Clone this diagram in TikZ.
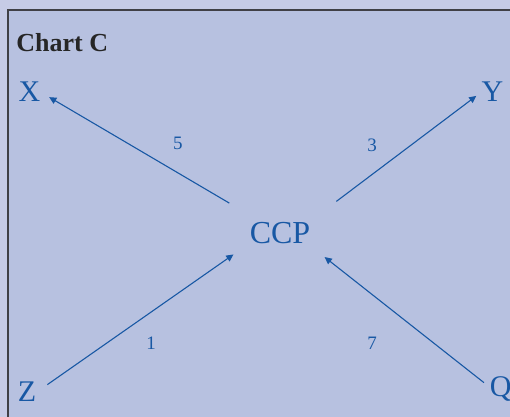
\documentclass[tikz,border=0pt]{standalone}
\usepackage{fontspec}
\setmainfont{Liberation Serif}
\usetikzlibrary{arrows.meta, positioning}
\definecolor{fondo}{RGB}{198, 203, 230}
\definecolor{panel}{RGB}{183, 193, 224}
\definecolor{azul}{RGB}{24, 88, 164}
\definecolor{borde}{RGB}{64, 64, 70}

\begin{document}
\begin{tikzpicture}[
          x=0.5pt, y=-0.5pt,
          letra/.style={font=\fontsize{15}{18}\selectfont, text=azul,
                        inner sep=0pt, text depth=0pt, anchor=base},
          peso/.style={font=\fontsize{9.5}{11}\selectfont, text=azul, inner sep=0pt},
          flecha/.style={draw=azul, line width=0.55pt,
                         -{Triangle[length=3.6pt, width=3.4pt]}}
        ]
        \fill[fondo] (0,0) rectangle (510,417);
        \useasboundingbox (0,0) rectangle (510,417);
        \fill[panel] (8,10) rectangle (510,417);
        \draw[borde, line width=0.8pt] (510,10) -- (8,10) -- (8,417);
        \node[anchor=base west, font=\fontsize{13}{15}\selectfont\bfseries, text=black!85, inner sep=0pt] (titulo) at (16,52) {Chart C};
        \node[letra, font=\fontsize{16}{19}\selectfont] (ccp) at (280,243.5) {CCP};
        \node[letra] (x) at (29.5,102) {X};
        \node[letra] (y) at (492.5,102) {Y};
        \node[letra] (z) at (27,402) {Z};
        \node[letra] (q) at (500.8,397) {Q};
        \draw[flecha, shorten <=29.4pt, shorten >=4.9pt] (ccp.center) -- (x.east);
        \draw[flecha, shorten <=35.3pt, shorten >=3.1pt] (ccp.south) -- (y.west);
        \draw[flecha, shorten <=6.6pt, shorten >=28.4pt] (z.east) -- (ccp.north);
        \draw[flecha, shorten <=3.6pt, shorten >=28.4pt] (q.west) -- (ccp.north);
        \node[peso] (p5) at (178,143) {5};
        \node[peso] (p3) at (372,145) {3};
        \node[peso] (p1) at (151,343) {1};
        \node[peso] (p7) at (372,343) {7};
      \end{tikzpicture}
\end{document}
